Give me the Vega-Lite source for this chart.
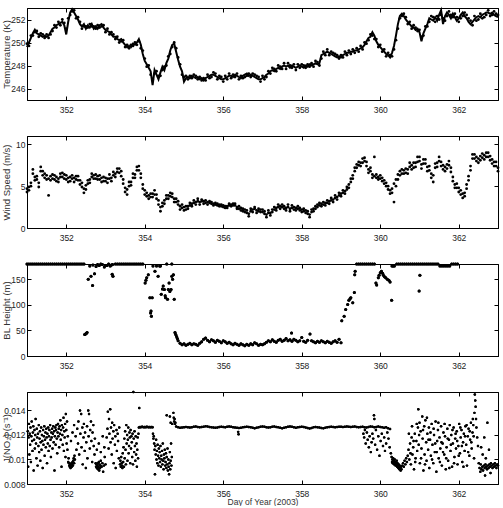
{
"$schema": "https://vega.github.io/schema/vega-lite/v6.json",
"padding": {"left": 1, "top": 4, "right": 5, "bottom": 0},
"bounds": "flush",
"spacing": 36,
"config": {
  "font": "Liberation Sans Narrow, Liberation Sans, sans-serif",
  "view": {"stroke": "black", "strokeWidth": 1},
  "axis": {"grid": false, "domainColor": "black", "tickColor": "black", "tickSize": -4, "labelFont": "Liberation Sans Narrow, Liberation Sans, sans-serif", "labelFontSize": 8.5, "labelColor": "#222", "titleFont": "Liberation Sans, sans-serif", "titleFontSize": 9.5, "titleFontWeight": "normal", "titleColor": "#333", "labelFlush": false},
  "axisX": {"labelPadding": 9.5, "titlePadding": 0},
  "axisY": {"labelPadding": 6, "minExtent": 12, "maxExtent": 12, "titlePadding": 3.5}
},
"datasets": {
"tw": [
{"d":351.00,"t":249.6,"t2":249.9,"w":4.3,"w2":4.7},{"d":351.05,"t":250.0,"t2":249.7,"w":4.9,"w2":4.5},{"d":351.10,"t":250.4,"t2":250.6,"w":5.0,"w2":5.4},{"d":351.15,"t":250.8,"t2":250.6,"w":6.5,"w2":7.0},{"d":351.20,"t":251.1,"t2":250.9,"w":5.7,"w2":6.1},
{"d":351.25,"t":250.8,"t2":251.0,"w":6.2,"w2":5.8},{"d":351.30,"t":250.7,"t2":250.5,"w":4.9,"w2":5.4},{"d":351.35,"t":250.6,"t2":250.8,"w":7.3,"w2":6.8},{"d":351.40,"t":250.5,"t2":250.7,"w":6.8,"w2":6.3},{"d":351.45,"t":250.6,"t2":250.4,"w":6.5,"w2":6.0},
{"d":351.50,"t":250.5,"t2":250.7,"w":5.8,"w2":6.3},{"d":351.55,"t":250.6,"t2":250.4,"w":3.9,"w2":5.9},{"d":351.60,"t":250.9,"t2":250.7,"w":6.2,"w2":5.7},{"d":351.65,"t":251.2,"t2":251.0,"w":5.9,"w2":6.4},{"d":351.70,"t":251.3,"t2":251.5,"w":6.3,"w2":5.8},
{"d":351.75,"t":251.5,"t2":251.3,"w":5.6,"w2":6.1},{"d":351.80,"t":251.6,"t2":251.8,"w":5.9,"w2":5.5},{"d":351.85,"t":251.7,"t2":251.5,"w":6.1,"w2":6.5},{"d":351.90,"t":251.8,"t2":252.0,"w":6.6,"w2":6.1},{"d":351.95,"t":251.5,"t2":251.7,"w":6.4,"w2":5.9},
{"d":352.00,"t":250.7,"t2":251.2,"w":5.8,"w2":6.3},{"d":352.05,"t":251.8,"t2":252.1,"w":5.5,"w2":6.0},{"d":352.10,"t":252.6,"t2":252.4,"w":6.1,"w2":5.6},{"d":352.15,"t":252.9,"t2":252.7,"w":5.9,"w2":6.3},{"d":352.20,"t":252.6,"t2":252.8,"w":6.0,"w2":5.5},
{"d":352.25,"t":252.3,"t2":252.1,"w":5.8,"w2":6.2},{"d":352.30,"t":252.0,"t2":252.2,"w":6.2,"w2":5.7},{"d":352.35,"t":251.6,"t2":251.8,"w":5.7,"w2":5.2},{"d":352.40,"t":251.4,"t2":251.2,"w":5.4,"w2":4.9},{"d":352.45,"t":251.6,"t2":251.4,"w":4.2,"w2":4.7},
{"d":352.50,"t":251.2,"t2":251.4,"w":4.6,"w2":5.1},{"d":352.55,"t":251.5,"t2":251.3,"w":5.3,"w2":5.7},{"d":352.60,"t":251.3,"t2":251.6,"w":5.8,"w2":5.4},{"d":352.65,"t":251.6,"t2":251.4,"w":6.1,"w2":6.5},{"d":352.70,"t":251.2,"t2":251.4,"w":6.3,"w2":5.9},
{"d":352.75,"t":251.4,"t2":251.2,"w":5.9,"w2":6.4},{"d":352.80,"t":251.2,"t2":251.5,"w":6.2,"w2":5.8},{"d":352.85,"t":251.5,"t2":251.3,"w":5.8,"w2":6.3},{"d":352.90,"t":251.6,"t2":251.4,"w":6.0,"w2":5.5},{"d":352.95,"t":251.3,"t2":251.5,"w":5.6,"w2":6.1},
{"d":353.00,"t":251.1,"t2":250.9,"w":6.0,"w2":5.6},{"d":353.05,"t":251.0,"t2":251.2,"w":5.4,"w2":5.9},{"d":353.10,"t":250.9,"t2":250.7,"w":5.9,"w2":6.4},{"d":353.15,"t":250.7,"t2":250.9,"w":6.0,"w2":5.6},{"d":353.20,"t":250.5,"t2":250.7,"w":6.3,"w2":6.7},
{"d":353.25,"t":250.5,"t2":250.3,"w":6.5,"w2":6.1},{"d":353.30,"t":250.3,"t2":250.5,"w":6.7,"w2":7.1},{"d":353.35,"t":250.2,"t2":250.0,"w":7.1,"w2":6.6},{"d":353.40,"t":250.3,"t2":250.1,"w":6.8,"w2":6.2},{"d":353.45,"t":250.0,"t2":250.2,"w":5.8,"w2":5.3},
{"d":353.50,"t":249.8,"t2":249.6,"w":4.8,"w2":4.3},{"d":353.55,"t":249.6,"t2":249.8,"w":4.0,"w2":4.6},{"d":353.60,"t":249.7,"t2":249.5,"w":5.0,"w2":5.5},{"d":353.65,"t":249.6,"t2":249.8,"w":5.5,"w2":5.1},{"d":353.70,"t":249.9,"t2":249.7,"w":6.0,"w2":6.5},
{"d":353.75,"t":249.8,"t2":250.0,"w":6.4,"w2":6.0},{"d":353.80,"t":250.0,"t2":249.8,"w":6.9,"w2":7.3},{"d":353.85,"t":250.3,"t2":250.1,"w":7.4,"w2":6.9},{"d":353.90,"t":249.8,"t2":249.5,"w":6.5,"w2":6.0},{"d":353.95,"t":249.0,"t2":249.3,"w":5.2,"w2":4.7},
{"d":354.00,"t":248.4,"t2":248.6,"w":4.0,"w2":4.5},{"d":354.05,"t":248.1,"t2":247.9,"w":3.8,"w2":4.2},{"d":354.10,"t":247.8,"t2":248.0,"w":3.9,"w2":3.5},{"d":354.15,"t":247.5,"t2":247.2,"w":3.7,"w2":4.1},{"d":354.20,"t":246.3,"t2":246.8,"w":4.1,"w2":3.7},
{"d":354.25,"t":247.6,"t2":247.3,"w":4.5,"w2":4.0},{"d":354.30,"t":247.2,"t2":247.5,"w":4.0,"w2":3.5},{"d":354.35,"t":246.8,"t2":247.1,"w":3.3,"w2":2.8},{"d":354.40,"t":247.4,"t2":247.1,"w":2.0,"w2":2.5},{"d":354.45,"t":247.9,"t2":247.6,"w":2.6,"w2":3.0},
{"d":354.50,"t":247.6,"t2":247.9,"w":3.3,"w2":2.9},{"d":354.55,"t":248.2,"t2":248.0,"w":3.5,"w2":3.9},{"d":354.60,"t":248.6,"t2":248.8,"w":3.9,"w2":3.5},{"d":354.65,"t":249.3,"t2":249.0,"w":4.2,"w2":3.8},{"d":354.70,"t":249.8,"t2":249.6,"w":3.7,"w2":4.1},
{"d":354.75,"t":249.9,"t2":250.0,"w":3.5,"w2":3.1},{"d":354.80,"t":249.2,"t2":249.5,"w":3.1,"w2":3.5},{"d":354.85,"t":248.5,"t2":248.7,"w":2.8,"w2":3.2},{"d":354.90,"t":247.9,"t2":248.1,"w":2.6,"w2":2.2},{"d":354.95,"t":247.5,"t2":247.2,"w":2.4,"w2":2.8},
{"d":355.00,"t":246.6,"t2":247.0,"w":2.1,"w2":2.5},{"d":355.05,"t":246.9,"t2":247.1,"w":2.2,"w2":2.6},{"d":355.10,"t":247.0,"t2":246.8,"w":2.6,"w2":2.3},{"d":355.15,"t":246.9,"t2":247.1,"w":2.7,"w2":3.0},{"d":355.20,"t":247.1,"t2":246.9,"w":2.9,"w2":2.6},
{"d":355.25,"t":247.0,"t2":247.2,"w":3.0,"w2":3.3},{"d":355.30,"t":246.9,"t2":247.1,"w":3.1,"w2":2.8},{"d":355.35,"t":247.0,"t2":246.8,"w":3.2,"w2":3.5},{"d":355.40,"t":246.8,"t2":247.0,"w":3.1,"w2":2.8},{"d":355.45,"t":246.9,"t2":246.7,"w":3.2,"w2":3.4},
{"d":355.50,"t":246.7,"t2":246.9,"w":3.2,"w2":2.9},{"d":355.55,"t":246.9,"t2":246.7,"w":3.0,"w2":3.3},{"d":355.60,"t":247.0,"t2":247.2,"w":3.1,"w2":2.8},{"d":355.65,"t":247.1,"t2":246.9,"w":3.0,"w2":3.2},{"d":355.70,"t":247.2,"t2":247.0,"w":2.9,"w2":3.1},
{"d":355.75,"t":247.2,"t2":247.4,"w":2.9,"w2":2.7},{"d":355.80,"t":247.1,"t2":247.3,"w":2.8,"w2":3.0},{"d":355.85,"t":247.0,"t2":246.8,"w":2.7,"w2":2.9},{"d":355.90,"t":246.9,"t2":247.1,"w":2.8,"w2":2.6},{"d":355.95,"t":246.8,"t2":247.0,"w":2.6,"w2":2.8},
{"d":356.00,"t":246.8,"t2":246.6,"w":2.5,"w2":2.7},{"d":356.05,"t":246.9,"t2":247.1,"w":2.4,"w2":2.6},{"d":356.10,"t":247.0,"t2":246.8,"w":2.6,"w2":2.4},{"d":356.15,"t":247.1,"t2":247.3,"w":2.7,"w2":2.9},{"d":356.20,"t":247.1,"t2":246.9,"w":2.8,"w2":2.6},
{"d":356.25,"t":247.0,"t2":247.2,"w":2.9,"w2":2.7},{"d":356.30,"t":247.2,"t2":247.0,"w":2.7,"w2":2.9},{"d":356.35,"t":247.1,"t2":247.3,"w":2.5,"w2":2.3},{"d":356.40,"t":247.0,"t2":246.8,"w":2.3,"w2":2.6},{"d":356.45,"t":246.9,"t2":247.1,"w":2.1,"w2":2.4},
{"d":356.50,"t":247.1,"t2":246.9,"w":2.0,"w2":2.3},{"d":356.55,"t":247.2,"t2":247.0,"w":1.9,"w2":2.2},{"d":356.60,"t":247.3,"t2":247.1,"w":1.8,"w2":2.1},{"d":356.65,"t":247.1,"t2":247.3,"w":1.7,"w2":1.4},{"d":356.70,"t":247.2,"t2":247.0,"w":2.0,"w2":2.3},
{"d":356.75,"t":247.1,"t2":247.3,"w":2.2,"w2":1.9},{"d":356.80,"t":247.0,"t2":247.2,"w":2.3,"w2":2.5},{"d":356.85,"t":246.9,"t2":247.1,"w":2.1,"w2":1.8},{"d":356.90,"t":246.8,"t2":247.0,"w":2.0,"w2":2.3},{"d":356.95,"t":246.8,"t2":246.6,"w":2.2,"w2":1.9},
{"d":357.00,"t":246.9,"t2":247.1,"w":1.9,"w2":2.2},{"d":357.05,"t":247.0,"t2":246.8,"w":1.7,"w2":2.0},{"d":357.10,"t":247.2,"t2":247.0,"w":1.6,"w2":1.3},{"d":357.15,"t":247.3,"t2":247.5,"w":1.8,"w2":2.1},{"d":357.20,"t":247.5,"t2":247.3,"w":1.5,"w2":1.8},
{"d":357.25,"t":247.6,"t2":247.8,"w":1.9,"w2":2.2},{"d":357.30,"t":247.5,"t2":247.7,"w":2.2,"w2":2.5},{"d":357.35,"t":247.7,"t2":247.5,"w":2.4,"w2":2.1},{"d":357.40,"t":247.8,"t2":248.0,"w":2.5,"w2":2.8},{"d":357.45,"t":247.7,"t2":247.9,"w":2.6,"w2":2.3},
{"d":357.50,"t":247.9,"t2":247.7,"w":2.5,"w2":2.8},{"d":357.55,"t":248.0,"t2":248.2,"w":2.3,"w2":2.6},{"d":357.60,"t":247.9,"t2":247.7,"w":2.4,"w2":2.1},{"d":357.65,"t":248.0,"t2":248.2,"w":2.5,"w2":2.8},{"d":357.70,"t":247.8,"t2":248.0,"w":2.3,"w2":2.0},
{"d":357.75,"t":248.0,"t2":247.8,"w":2.4,"w2":2.7},{"d":357.80,"t":247.9,"t2":248.1,"w":2.2,"w2":2.5},{"d":357.85,"t":247.8,"t2":247.6,"w":2.4,"w2":2.1},{"d":357.90,"t":247.9,"t2":248.1,"w":2.3,"w2":2.6},{"d":357.95,"t":248.0,"t2":247.8,"w":2.1,"w2":2.4},
{"d":358.00,"t":247.9,"t2":248.1,"w":2.2,"w2":1.9},{"d":358.05,"t":247.8,"t2":248.0,"w":2.0,"w2":2.3},{"d":358.10,"t":248.0,"t2":247.8,"w":1.8,"w2":2.1},{"d":358.15,"t":247.9,"t2":248.1,"w":1.7,"w2":2.0},{"d":358.20,"t":248.1,"t2":247.9,"w":1.6,"w2":1.3},
{"d":358.25,"t":248.0,"t2":248.2,"w":1.9,"w2":2.2},{"d":358.30,"t":248.1,"t2":247.9,"w":2.3,"w2":2.0},{"d":358.35,"t":248.2,"t2":248.4,"w":2.6,"w2":2.3},{"d":358.40,"t":248.1,"t2":248.3,"w":2.8,"w2":2.5},{"d":358.45,"t":248.2,"t2":248.0,"w":2.7,"w2":3.0},
{"d":358.50,"t":248.9,"t2":248.6,"w":2.9,"w2":2.6},{"d":358.55,"t":249.0,"t2":249.2,"w":2.8,"w2":3.1},{"d":358.60,"t":249.1,"t2":248.9,"w":3.0,"w2":2.7},{"d":358.65,"t":249.2,"t2":249.4,"w":3.0,"w2":3.3},{"d":358.70,"t":249.1,"t2":248.9,"w":3.2,"w2":2.9},
{"d":358.75,"t":249.0,"t2":249.2,"w":3.3,"w2":3.6},{"d":358.80,"t":248.9,"t2":249.1,"w":3.4,"w2":3.1},{"d":358.85,"t":248.8,"t2":249.0,"w":3.6,"w2":3.9},{"d":358.90,"t":248.7,"t2":248.9,"w":3.7,"w2":3.4},{"d":358.95,"t":248.8,"t2":248.6,"w":3.9,"w2":4.2},
{"d":359.00,"t":248.7,"t2":248.9,"w":4.1,"w2":3.8},{"d":359.05,"t":248.9,"t2":248.7,"w":4.2,"w2":4.5},{"d":359.10,"t":249.0,"t2":249.2,"w":4.4,"w2":4.1},{"d":359.15,"t":249.1,"t2":248.9,"w":4.6,"w2":4.9},{"d":359.20,"t":249.1,"t2":249.3,"w":4.8,"w2":5.2},
{"d":359.25,"t":249.2,"t2":249.0,"w":5.5,"w2":5.9},{"d":359.30,"t":249.2,"t2":249.4,"w":6.3,"w2":5.9},{"d":359.35,"t":249.3,"t2":249.1,"w":6.8,"w2":7.2},{"d":359.40,"t":249.3,"t2":249.5,"w":7.2,"w2":7.6},{"d":359.45,"t":249.4,"t2":249.2,"w":7.5,"w2":7.9},
{"d":359.50,"t":249.5,"t2":249.7,"w":7.8,"w2":7.4},{"d":359.55,"t":249.6,"t2":249.4,"w":8.3,"w2":7.8},{"d":359.60,"t":249.8,"t2":250.0,"w":8.0,"w2":8.4},{"d":359.65,"t":250.1,"t2":249.9,"w":7.4,"w2":7.9},{"d":359.70,"t":250.4,"t2":250.2,"w":7.0,"w2":6.6},
{"d":359.75,"t":250.5,"t2":250.7,"w":6.8,"w2":7.2},{"d":359.80,"t":250.9,"t2":250.6,"w":6.4,"w2":6.0},{"d":359.85,"t":250.6,"t2":250.3,"w":8.5,"w2":6.2},{"d":359.90,"t":250.1,"t2":250.3,"w":6.0,"w2":6.4},{"d":359.95,"t":249.8,"t2":249.6,"w":6.1,"w2":5.8},
{"d":360.00,"t":249.6,"t2":249.8,"w":6.3,"w2":5.9},{"d":360.05,"t":249.4,"t2":249.2,"w":6.0,"w2":5.6},{"d":360.10,"t":249.2,"t2":249.4,"w":5.7,"w2":5.3},{"d":360.15,"t":249.0,"t2":248.8,"w":5.4,"w2":5.0},{"d":360.20,"t":248.9,"t2":249.1,"w":5.0,"w2":4.6},
{"d":360.25,"t":248.7,"t2":248.9,"w":4.5,"w2":4.1},{"d":360.30,"t":249.1,"t2":248.8,"w":4.2,"w2":4.7},{"d":360.35,"t":249.7,"t2":249.4,"w":3.1,"w2":5.3},{"d":360.40,"t":250.6,"t2":250.2,"w":5.0,"w2":5.8},{"d":360.45,"t":251.6,"t2":251.2,"w":5.8,"w2":6.4},
{"d":360.50,"t":252.3,"t2":252.1,"w":6.8,"w2":6.3},{"d":360.55,"t":252.5,"t2":252.3,"w":6.5,"w2":7.0},{"d":360.60,"t":252.3,"t2":252.5,"w":6.9,"w2":6.5},{"d":360.65,"t":252.0,"t2":252.2,"w":6.6,"w2":7.1},{"d":360.70,"t":251.8,"t2":251.6,"w":7.0,"w2":6.5},
{"d":360.75,"t":251.6,"t2":251.8,"w":7.3,"w2":7.8},{"d":360.80,"t":251.4,"t2":251.2,"w":7.5,"w2":7.0},{"d":360.85,"t":251.3,"t2":251.5,"w":7.2,"w2":7.8},{"d":360.90,"t":251.1,"t2":251.3,"w":7.8,"w2":7.3},{"d":360.95,"t":251.2,"t2":251.0,"w":8.5,"w2":7.9},
{"d":361.00,"t":250.9,"t2":251.1,"w":8.0,"w2":8.5},{"d":361.05,"t":250.1,"t2":250.5,"w":7.6,"w2":7.1},{"d":361.10,"t":250.8,"t2":250.6,"w":8.2,"w2":7.7},{"d":361.15,"t":251.2,"t2":251.4,"w":7.7,"w2":8.2},{"d":361.20,"t":251.6,"t2":251.4,"w":7.3,"w2":6.8},
{"d":361.25,"t":252.1,"t2":251.8,"w":6.9,"w2":7.4},{"d":361.30,"t":252.0,"t2":252.3,"w":6.5,"w2":6.0},{"d":361.35,"t":251.9,"t2":252.2,"w":5.5,"w2":6.3},{"d":361.40,"t":252.2,"t2":251.8,"w":7.2,"w2":7.7},{"d":361.45,"t":251.9,"t2":252.3,"w":7.8,"w2":7.3},
{"d":361.50,"t":252.4,"t2":252.0,"w":8.0,"w2":8.5},{"d":361.55,"t":252.8,"t2":252.4,"w":7.4,"w2":7.9},{"d":361.60,"t":251.6,"t2":252.1,"w":7.0,"w2":7.5},{"d":361.65,"t":252.3,"t2":251.9,"w":6.8,"w2":7.3},{"d":361.70,"t":252.6,"t2":252.3,"w":7.6,"w2":7.1},
{"d":361.75,"t":252.4,"t2":252.7,"w":8.0,"w2":7.5},{"d":361.80,"t":252.1,"t2":252.4,"w":7.2,"w2":6.7},{"d":361.85,"t":252.5,"t2":252.2,"w":5.6,"w2":6.1},{"d":361.90,"t":252.2,"t2":252.5,"w":5.2,"w2":4.8},{"d":361.95,"t":251.9,"t2":252.2,"w":4.8,"w2":5.3},
{"d":362.00,"t":252.1,"t2":251.8,"w":4.3,"w2":4.8},{"d":362.05,"t":252.4,"t2":252.1,"w":4.0,"w2":4.5},{"d":362.10,"t":252.6,"t2":252.3,"w":3.6,"w2":4.1},{"d":362.15,"t":252.3,"t2":252.6,"w":4.2,"w2":3.8},{"d":362.20,"t":252.1,"t2":252.4,"w":5.2,"w2":4.7},
{"d":362.25,"t":251.8,"t2":252.1,"w":6.2,"w2":5.7},{"d":362.30,"t":251.6,"t2":251.9,"w":7.4,"w2":6.9},{"d":362.35,"t":251.8,"t2":251.5,"w":8.8,"w2":8.3},{"d":362.40,"t":252.0,"t2":252.3,"w":8.3,"w2":8.8},{"d":362.45,"t":252.2,"t2":251.9,"w":8.0,"w2":8.5},
{"d":362.50,"t":252.3,"t2":252.0,"w":8.3,"w2":7.8},{"d":362.55,"t":252.2,"t2":252.5,"w":8.6,"w2":8.1},{"d":362.60,"t":252.4,"t2":252.1,"w":8.4,"w2":8.9},{"d":362.65,"t":252.5,"t2":252.2,"w":8.7,"w2":8.2},{"d":362.70,"t":252.6,"t2":252.4,"w":9.0,"w2":8.5},
{"d":362.75,"t":252.6,"t2":252.8,"w":8.5,"w2":9.0},{"d":362.80,"t":252.5,"t2":252.3,"w":8.1,"w2":8.6},{"d":362.85,"t":252.6,"t2":252.4,"w":7.7,"w2":8.2},{"d":362.90,"t":252.4,"t2":252.7,"w":7.9,"w2":7.4},{"d":362.95,"t":252.3,"t2":252.5,"w":7.4,"w2":7.9},
{"d":363.00,"t":252.2,"t2":252.4,"w":7.2,"w2":6.8}
],
"bl": [
{"d":351.00,"b":180},{"d":351.05,"b":180},{"d":351.10,"b":180},{"d":351.15,"b":180},{"d":351.20,"b":180},{"d":351.25,"b":180},{"d":351.30,"b":180},{"d":351.35,"b":180},{"d":351.40,"b":180},{"d":351.45,"b":180},
{"d":351.50,"b":180},{"d":351.55,"b":180},{"d":351.60,"b":180},{"d":351.65,"b":180},{"d":351.70,"b":180},{"d":351.75,"b":180},{"d":351.80,"b":180},{"d":351.85,"b":180},{"d":351.90,"b":180},{"d":351.95,"b":180},
{"d":352.00,"b":180},{"d":352.05,"b":180},{"d":352.10,"b":180},{"d":352.15,"b":180},{"d":352.20,"b":180},{"d":352.25,"b":180},{"d":352.30,"b":180},{"d":352.35,"b":180},{"d":352.40,"b":180},{"d":352.45,"b":180},
{"d":352.47,"b":42},{"d":352.49,"b":43},{"d":352.51,"b":44},{"d":352.53,"b":46},
{"d":352.56,"b":150},{"d":352.63,"b":156},{"d":352.67,"b":138},{"d":352.72,"b":161},
{"d":352.60,"b":176},{"d":352.68,"b":178},{"d":352.76,"b":175},{"d":352.80,"b":179},{"d":352.84,"b":177},{"d":352.88,"b":180},{"d":352.92,"b":179},{"d":352.97,"b":174},{"d":353.00,"b":177},{"d":353.04,"b":177},{"d":353.08,"b":180},{"d":353.12,"b":176},{"d":353.15,"b":178},{"d":353.18,"b":179},
{"d":353.17,"b":160},{"d":353.19,"b":156},
{"d":353.25,"b":180},{"d":353.30,"b":180},{"d":353.35,"b":180},{"d":353.40,"b":180},{"d":353.45,"b":180},{"d":353.50,"b":180},{"d":353.55,"b":180},{"d":353.60,"b":180},{"d":353.65,"b":180},{"d":353.70,"b":180},{"d":353.75,"b":180},{"d":353.80,"b":180},{"d":353.85,"b":180},{"d":353.90,"b":180},{"d":353.95,"b":180},
{"d":354.01,"b":143},{"d":354.03,"b":148},{"d":354.05,"b":153},{"d":354.09,"b":159},{"d":354.13,"b":114},{"d":354.19,"b":114},{"d":354.16,"b":88},{"d":354.17,"b":78},{"d":354.15,"b":84},
{"d":354.21,"b":176},{"d":354.26,"b":166},{"d":354.30,"b":176},{"d":354.34,"b":156},{"d":354.38,"b":176},{"d":354.40,"b":176},{"d":354.42,"b":121},{"d":354.47,"b":137},{"d":354.50,"b":130},{"d":354.53,"b":114},
{"d":354.58,"b":111},{"d":354.60,"b":130},{"d":354.62,"b":143},{"d":354.67,"b":130},{"d":354.69,"b":156},{"d":354.73,"b":159},{"d":354.75,"b":111},{"d":354.56,"b":180},{"d":354.69,"b":180},{"d":354.45,"b":131},{"d":354.52,"b":118},{"d":354.64,"b":126},{"d":354.71,"b":150},
{"d":354.77,"b":46},{"d":354.79,"b":42},{"d":354.81,"b":38},{"d":354.83,"b":34},{"d":354.85,"b":30},
{"d":354.90,"b":25},{"d":354.95,"b":22},{"d":355.00,"b":24},{"d":355.05,"b":21},{"d":355.10,"b":23},{"d":355.15,"b":25},{"d":355.20,"b":22},{"d":355.25,"b":24},{"d":355.30,"b":23},{"d":355.35,"b":21},
{"d":355.40,"b":25},{"d":355.45,"b":28},{"d":355.50,"b":33},{"d":355.55,"b":35},{"d":355.60,"b":31},{"d":355.65,"b":28},{"d":355.70,"b":32},{"d":355.75,"b":30},{"d":355.80,"b":27},{"d":355.85,"b":31},
{"d":355.90,"b":29},{"d":355.95,"b":26},{"d":356.00,"b":30},{"d":356.05,"b":28},{"d":356.10,"b":25},{"d":356.15,"b":27},{"d":356.20,"b":24},{"d":356.25,"b":22},{"d":356.30,"b":25},{"d":356.35,"b":23},
{"d":356.40,"b":21},{"d":356.45,"b":24},{"d":356.50,"b":22},{"d":356.55,"b":20},{"d":356.60,"b":23},{"d":356.65,"b":21},{"d":356.70,"b":24},{"d":356.75,"b":22},{"d":356.80,"b":26},{"d":356.85,"b":24},
{"d":356.90,"b":21},{"d":356.95,"b":23},{"d":357.00,"b":22},{"d":357.05,"b":24},{"d":357.10,"b":27},{"d":357.15,"b":30},{"d":357.20,"b":28},{"d":357.25,"b":32},{"d":357.30,"b":29},{"d":357.35,"b":27},
{"d":357.40,"b":31},{"d":357.45,"b":33},{"d":357.50,"b":29},{"d":357.55,"b":31},{"d":357.60,"b":34},{"d":357.65,"b":30},{"d":357.70,"b":32},{"d":357.74,"b":45},{"d":357.75,"b":29},{"d":357.80,"b":33},
{"d":357.85,"b":31},{"d":357.90,"b":28},{"d":357.95,"b":30},{"d":358.00,"b":36},{"d":358.05,"b":29},{"d":358.10,"b":27},{"d":358.15,"b":31},{"d":358.21,"b":43},{"d":358.25,"b":30},{"d":358.30,"b":28},
{"d":358.35,"b":26},{"d":358.40,"b":29},{"d":358.45,"b":27},{"d":358.50,"b":30},{"d":358.55,"b":28},{"d":358.60,"b":26},{"d":358.65,"b":29},{"d":358.70,"b":27},{"d":358.75,"b":25},{"d":358.80,"b":28},
{"d":358.85,"b":30},{"d":358.90,"b":27},{"d":358.95,"b":33},{"d":359.00,"b":26},
{"d":359.02,"b":69},{"d":359.08,"b":78},{"d":359.12,"b":91},{"d":359.17,"b":101},{"d":359.20,"b":109},{"d":359.23,"b":112},{"d":359.25,"b":114},{"d":359.30,"b":104},{"d":359.34,"b":124},{"d":359.35,"b":159},{"d":359.36,"b":166},
{"d":359.40,"b":180},{"d":359.45,"b":180},{"d":359.50,"b":180},{"d":359.55,"b":180},{"d":359.60,"b":180},{"d":359.65,"b":180},{"d":359.70,"b":180},{"d":359.75,"b":180},{"d":359.80,"b":180},{"d":359.85,"b":180},
{"d":359.89,"b":143},{"d":359.91,"b":139},{"d":359.95,"b":153},{"d":359.97,"b":158},{"d":360.00,"b":163},{"d":360.03,"b":166},{"d":360.06,"b":162},{"d":360.08,"b":158},{"d":360.11,"b":155},{"d":360.14,"b":153},{"d":360.18,"b":150},{"d":360.22,"b":148},{"d":360.25,"b":145},
{"d":360.29,"b":109},{"d":360.30,"b":176},{"d":360.33,"b":176},{"d":360.36,"b":176},
{"d":360.42,"b":180},{"d":360.47,"b":180},{"d":360.52,"b":180},{"d":360.57,"b":180},{"d":360.62,"b":180},{"d":360.67,"b":180},{"d":360.72,"b":180},{"d":360.77,"b":180},{"d":360.82,"b":180},{"d":360.87,"b":180},{"d":360.92,"b":180},{"d":360.97,"b":180},
{"d":360.99,"b":127},{"d":361.01,"b":158},
{"d":361.02,"b":180},{"d":361.07,"b":180},{"d":361.12,"b":180},{"d":361.17,"b":180},{"d":361.22,"b":180},{"d":361.27,"b":180},{"d":361.32,"b":180},{"d":361.37,"b":180},{"d":361.42,"b":180},{"d":361.47,"b":180},
{"d":361.52,"b":176},{"d":361.57,"b":176},{"d":361.62,"b":176},{"d":361.67,"b":176},{"d":361.72,"b":176},{"d":361.77,"b":176},
{"d":361.82,"b":180},{"d":361.87,"b":180},{"d":361.92,"b":180},{"d":361.97,"b":180}
],
"jn": [
{"d":351.02,"j":0.0123},{"d":351.03,"j":0.0094},{"d":351.04,"j":0.0118},{"d":351.05,"j":0.0129},{"d":351.06,"j":0.0104},{"d":351.07,"j":0.0121},{"d":351.08,"j":0.0112},{"d":351.09,"j":0.0126},{"d":351.10,"j":0.0098},{"d":351.11,"j":0.0119},
{"d":351.12,"j":0.0131},{"d":351.13,"j":0.0115},{"d":351.14,"j":0.0107},{"d":351.15,"j":0.0122},{"d":351.16,"j":0.0127},{"d":351.17,"j":0.0091},{"d":351.18,"j":0.0116},{"d":351.19,"j":0.0124},{"d":351.20,"j":0.0109},{"d":351.21,"j":0.0120},
{"d":351.22,"j":0.0133},{"d":351.23,"j":0.0113},{"d":351.24,"j":0.0101},{"d":351.25,"j":0.0125},{"d":351.26,"j":0.0118},{"d":351.27,"j":0.0095},{"d":351.28,"j":0.0121},{"d":351.29,"j":0.0111},{"d":351.30,"j":0.0128},{"d":351.31,"j":0.0106},
{"d":351.32,"j":0.0117},{"d":351.33,"j":0.0123},{"d":351.34,"j":0.0099},{"d":351.35,"j":0.0114},{"d":351.36,"j":0.0126},{"d":351.37,"j":0.0108},{"d":351.38,"j":0.0120},{"d":351.39,"j":0.0115},{"d":351.40,"j":0.0093},{"d":351.41,"j":0.0124},
{"d":351.42,"j":0.0112},{"d":351.43,"j":0.0119},{"d":351.44,"j":0.0127},{"d":351.45,"j":0.0103},{"d":351.46,"j":0.0116},{"d":351.47,"j":0.0122},{"d":351.48,"j":0.0110},{"d":351.49,"j":0.0125},{"d":351.50,"j":0.0118},{"d":351.51,"j":0.0097},
{"d":351.52,"j":0.0121},{"d":351.53,"j":0.0113},{"d":351.54,"j":0.0126},{"d":351.55,"j":0.0107},{"d":351.56,"j":0.0119},{"d":351.57,"j":0.0124},{"d":351.58,"j":0.0111},{"d":351.59,"j":0.0128},{"d":351.60,"j":0.0116},{"d":351.61,"j":0.0102},
{"d":351.62,"j":0.0122},{"d":351.63,"j":0.0118},{"d":351.64,"j":0.0125},{"d":351.65,"j":0.0109},{"d":351.66,"j":0.0121},{"d":351.67,"j":0.0127},{"d":351.68,"j":0.0114},{"d":351.69,"j":0.0123},{"d":351.70,"j":0.0091},{"d":351.71,"j":0.0119},
{"d":351.72,"j":0.0126},{"d":351.73,"j":0.0112},{"d":351.74,"j":0.0124},{"d":351.75,"j":0.0128},{"d":351.76,"j":0.0117},{"d":351.77,"j":0.0105},{"d":351.78,"j":0.0122},{"d":351.79,"j":0.0129},{"d":351.80,"j":0.0119},{"d":351.81,"j":0.0125},
{"d":351.82,"j":0.0110},{"d":351.83,"j":0.0127},{"d":351.84,"j":0.0121},{"d":351.85,"j":0.0132},{"d":351.86,"j":0.0116},{"d":351.87,"j":0.0124},{"d":351.88,"j":0.0094},{"d":351.89,"j":0.0128},{"d":351.90,"j":0.0120},{"d":351.91,"j":0.0112},
{"d":351.92,"j":0.0126},{"d":351.93,"j":0.0134},{"d":351.94,"j":0.0107},{"d":351.95,"j":0.0123},{"d":351.96,"j":0.0118},{"d":351.97,"j":0.0129},{"d":351.98,"j":0.0102},{"d":351.99,"j":0.0137},{"d":352.00,"j":0.0124},{"d":352.01,"j":0.0113},
{"d":352.02,"j":0.0131},{"d":352.03,"j":0.0108},{"d":352.04,"j":0.0119},{"d":352.05,"j":0.0098},
{"d":352.06,"j":0.0101},{"d":352.07,"j":0.0097},{"d":352.08,"j":0.0095},{"d":352.09,"j":0.0094},{"d":352.10,"j":0.0096},{"d":352.11,"j":0.0093},{"d":352.12,"j":0.0095},{"d":352.13,"j":0.0097},{"d":352.14,"j":0.0094},{"d":352.15,"j":0.0096},
{"d":352.16,"j":0.0098},{"d":352.17,"j":0.0095},{"d":352.18,"j":0.0099},{"d":352.19,"j":0.0101},{"d":352.20,"j":0.0097},{"d":352.21,"j":0.0103},{"d":352.22,"j":0.0100},
{"d":352.12,"j":0.0115},{"d":352.16,"j":0.0122},{"d":352.20,"j":0.0128},
{"d":352.24,"j":0.0119},{"d":352.26,"j":0.0108},{"d":352.28,"j":0.0125},{"d":352.30,"j":0.0113},{"d":352.31,"j":0.0131},{"d":352.33,"j":0.0104},{"d":352.35,"j":0.0140},{"d":352.36,"j":0.0121},{"d":352.38,"j":0.0137},{"d":352.39,"j":0.0110},
{"d":352.41,"j":0.0126},{"d":352.42,"j":0.0096},{"d":352.44,"j":0.0118},{"d":352.45,"j":0.0129},{"d":352.47,"j":0.0107},{"d":352.48,"j":0.0122},{"d":352.50,"j":0.0093},{"d":352.51,"j":0.0114},{"d":352.53,"j":0.0127},{"d":352.54,"j":0.0101},
{"d":352.56,"j":0.0140},{"d":352.57,"j":0.0119},{"d":352.58,"j":0.0137},{"d":352.60,"j":0.0109},{"d":352.61,"j":0.0124},{"d":352.63,"j":0.0131},{"d":352.64,"j":0.0115},{"d":352.66,"j":0.0098},{"d":352.67,"j":0.0122},{"d":352.69,"j":0.0128},
{"d":352.70,"j":0.0111},{"d":352.72,"j":0.0104},{"d":352.73,"j":0.0117},
{"d":352.75,"j":0.0097},{"d":352.76,"j":0.0094},{"d":352.77,"j":0.0096},{"d":352.78,"j":0.0093},{"d":352.79,"j":0.0095},{"d":352.80,"j":0.0097},{"d":352.81,"j":0.0092},{"d":352.82,"j":0.0094},{"d":352.83,"j":0.0098},{"d":352.84,"j":0.0091},
{"d":352.85,"j":0.0096},{"d":352.86,"j":0.0093},{"d":352.87,"j":0.0095},{"d":352.88,"j":0.0099},{"d":352.90,"j":0.0094},{"d":352.92,"j":0.0097},{"d":352.94,"j":0.0090},{"d":352.96,"j":0.0095},{"d":352.98,"j":0.0102},{"d":353.00,"j":0.0096},
{"d":352.78,"j":0.0108},{"d":352.83,"j":0.0113},{"d":352.88,"j":0.0106},{"d":352.93,"j":0.0119},{"d":352.97,"j":0.0110},
{"d":353.03,"j":0.0118},{"d":353.05,"j":0.0125},{"d":353.06,"j":0.0139},{"d":353.08,"j":0.0109},{"d":353.09,"j":0.0133},{"d":353.10,"j":0.0121},{"d":353.12,"j":0.0141},{"d":353.13,"j":0.0114},{"d":353.14,"j":0.0126},{"d":353.16,"j":0.0104},
{"d":353.17,"j":0.0130},{"d":353.18,"j":0.0117},{"d":353.20,"j":0.0123},{"d":353.21,"j":0.0097},{"d":353.22,"j":0.0128},{"d":353.24,"j":0.0112},{"d":353.25,"j":0.0119},{"d":353.26,"j":0.0093},{"d":353.28,"j":0.0124},{"d":353.29,"j":0.0107},
{"d":353.31,"j":0.0121},{"d":353.32,"j":0.0115},{"d":353.34,"j":0.0101},{"d":353.35,"j":0.0126},
{"d":353.37,"j":0.0096},{"d":353.38,"j":0.0099},{"d":353.39,"j":0.0094},{"d":353.40,"j":0.0102},{"d":353.41,"j":0.0097},{"d":353.42,"j":0.0095},{"d":353.43,"j":0.0093},{"d":353.44,"j":0.0105},{"d":353.45,"j":0.0098},{"d":353.46,"j":0.0110},
{"d":353.47,"j":0.0094},{"d":353.48,"j":0.0117},{"d":353.49,"j":0.0101},{"d":353.50,"j":0.0123},{"d":353.51,"j":0.0108},{"d":353.52,"j":0.0096},{"d":353.53,"j":0.0128},{"d":353.54,"j":0.0113},{"d":353.55,"j":0.0120},{"d":353.56,"j":0.0099},
{"d":353.57,"j":0.0116},{"d":353.58,"j":0.0126},{"d":353.59,"j":0.0105},{"d":353.60,"j":0.0111},{"d":353.61,"j":0.0122},{"d":353.62,"j":0.0118},{"d":353.63,"j":0.0097},{"d":353.64,"j":0.0124},{"d":353.65,"j":0.0109},{"d":353.66,"j":0.0119},
{"d":353.67,"j":0.0114},{"d":353.68,"j":0.0102},{"d":353.69,"j":0.0121},{"d":353.70,"j":0.0096},{"d":353.71,"j":0.0155},{"d":353.72,"j":0.0117},{"d":353.73,"j":0.0106},{"d":353.74,"j":0.0123},{"d":353.75,"j":0.0111},{"d":353.76,"j":0.0099},
{"d":353.77,"j":0.0119},{"d":353.78,"j":0.0104},{"d":353.79,"j":0.0113},{"d":353.80,"j":0.0094},{"d":353.81,"j":0.0108},{"d":353.82,"j":0.0118},{"d":353.83,"j":0.0101},{"d":353.84,"j":0.0121},{"d":353.85,"j":0.0126},{"d":353.86,"j":0.0142},
{"d":353.88,"j":0.01265},{"d":353.90,"j":0.01262},{"d":353.93,"j":0.01266},{"d":353.95,"j":0.01264},{"d":353.98,"j":0.01262},{"d":354.00,"j":0.01265},{"d":354.03,"j":0.01263},{"d":354.05,"j":0.01266},{"d":354.08,"j":0.01264},{"d":354.10,"j":0.01262},
{"d":354.13,"j":0.01265},{"d":354.15,"j":0.01263},{"d":354.18,"j":0.01264},{"d":354.20,"j":0.01262},{"d":354.21,"j":0.0121},{"d":354.22,"j":0.0117},
{"d":354.23,"j":0.0119},{"d":354.24,"j":0.0113},{"d":354.25,"j":0.0108},{"d":354.26,"j":0.0088},{"d":354.27,"j":0.0111},{"d":354.28,"j":0.0104},{"d":354.29,"j":0.0116},{"d":354.30,"j":0.0100},{"d":354.31,"j":0.0107},{"d":354.32,"j":0.0097},
{"d":354.33,"j":0.0112},{"d":354.34,"j":0.0103},{"d":354.35,"j":0.0095},{"d":354.36,"j":0.0109},{"d":354.37,"j":0.0101},{"d":354.38,"j":0.0106},{"d":354.39,"j":0.0098},{"d":354.40,"j":0.0111},{"d":354.41,"j":0.0094},{"d":354.42,"j":0.0103},
{"d":354.43,"j":0.0100},{"d":354.44,"j":0.0107},{"d":354.45,"j":0.0096},{"d":354.46,"j":0.0113},{"d":354.47,"j":0.0099},{"d":354.48,"j":0.0092},{"d":354.49,"j":0.0104},{"d":354.50,"j":0.0101},{"d":354.51,"j":0.0108},{"d":354.52,"j":0.0095},
{"d":354.53,"j":0.0098},{"d":354.54,"j":0.0105},{"d":354.55,"j":0.0093},{"d":354.56,"j":0.0102},{"d":354.57,"j":0.0096},{"d":354.58,"j":0.0109},{"d":354.59,"j":0.0091},{"d":354.60,"j":0.0100},{"d":354.61,"j":0.0094},{"d":354.62,"j":0.0088},
{"d":354.63,"j":0.0097},{"d":354.64,"j":0.0106},{"d":354.65,"j":0.0092},{"d":354.66,"j":0.0099},{"d":354.67,"j":0.0113},{"d":354.68,"j":0.0095},{"d":354.69,"j":0.0102},
{"d":354.56,"j":0.0136},{"d":354.64,"j":0.0135},{"d":354.66,"j":0.0130},{"d":354.70,"j":0.0129},
{"d":354.73,"j":0.0138},{"d":354.74,"j":0.0134},{"d":354.75,"j":0.0131},{"d":354.76,"j":0.0133},{"d":354.77,"j":0.0129},{"d":354.78,"j":0.0130},
{"d":354.80,"j":0.01268},{"d":354.85,"j":0.01262},{"d":354.90,"j":0.01258},{"d":354.95,"j":0.0126},{"d":355.00,"j":0.01263},{"d":355.05,"j":0.01265},{"d":355.10,"j":0.01262},{"d":355.15,"j":0.0126},{"d":355.20,"j":0.01263},{"d":355.25,"j":0.01266},
{"d":355.30,"j":0.01268},{"d":355.35,"j":0.01265},{"d":355.40,"j":0.01262},{"d":355.45,"j":0.01264},{"d":355.50,"j":0.01267},{"d":355.55,"j":0.0127},{"d":355.60,"j":0.01268},{"d":355.65,"j":0.01265},{"d":355.70,"j":0.01262},{"d":355.75,"j":0.0126},
{"d":355.80,"j":0.01258},{"d":355.85,"j":0.01261},{"d":355.90,"j":0.01264},{"d":355.95,"j":0.01266},{"d":356.00,"j":0.01265},{"d":356.05,"j":0.01263},{"d":356.10,"j":0.01266},{"d":356.15,"j":0.01268},{"d":356.20,"j":0.01266},{"d":356.25,"j":0.01263},
{"d":356.30,"j":0.0126},{"d":356.35,"j":0.01258},{"d":356.38,"j":0.01225},{"d":356.39,"j":0.01205},{"d":356.40,"j":0.01256},{"d":356.45,"j":0.01258},{"d":356.50,"j":0.01262},{"d":356.55,"j":0.01265},{"d":356.60,"j":0.01267},{"d":356.65,"j":0.01265},
{"d":356.70,"j":0.01262},{"d":356.75,"j":0.01258},{"d":356.80,"j":0.01254},{"d":356.85,"j":0.01258},{"d":356.90,"j":0.01263},{"d":356.95,"j":0.01266},{"d":357.00,"j":0.01268},{"d":357.05,"j":0.01266},{"d":357.10,"j":0.01263},{"d":357.15,"j":0.0126},
{"d":357.20,"j":0.01263},{"d":357.25,"j":0.01266},{"d":357.30,"j":0.01268},{"d":357.35,"j":0.01265},{"d":357.40,"j":0.01262},{"d":357.45,"j":0.01258},{"d":357.50,"j":0.01255},{"d":357.55,"j":0.01258},{"d":357.60,"j":0.01262},{"d":357.65,"j":0.01266},
{"d":357.70,"j":0.01268},{"d":357.75,"j":0.01266},{"d":357.80,"j":0.01262},{"d":357.85,"j":0.01259},{"d":357.90,"j":0.01262},{"d":357.95,"j":0.01265},{"d":358.00,"j":0.01267},{"d":358.05,"j":0.01264},{"d":358.10,"j":0.0126},{"d":358.15,"j":0.01256},
{"d":358.20,"j":0.01253},{"d":358.25,"j":0.01257},{"d":358.30,"j":0.01262},{"d":358.35,"j":0.01265},{"d":358.40,"j":0.01263},{"d":358.45,"j":0.0126},{"d":358.50,"j":0.01257},{"d":358.55,"j":0.01255},{"d":358.60,"j":0.01258},{"d":358.65,"j":0.01262},
{"d":358.70,"j":0.01265},{"d":358.75,"j":0.01266},{"d":358.80,"j":0.01264},{"d":358.85,"j":0.01262},{"d":358.90,"j":0.01264},{"d":358.95,"j":0.01266},{"d":359.00,"j":0.01267},{"d":359.05,"j":0.01265},{"d":359.10,"j":0.01266},{"d":359.15,"j":0.01268},
{"d":359.20,"j":0.01266},{"d":359.25,"j":0.01264},{"d":359.30,"j":0.01266},{"d":359.35,"j":0.01268},{"d":359.40,"j":0.01265},{"d":359.45,"j":0.01262},{"d":359.50,"j":0.01264},{"d":359.55,"j":0.01266},
{"d":359.60,"j":0.01263},{"d":359.65,"j":0.0126},{"d":359.70,"j":0.01265},{"d":359.75,"j":0.01268},{"d":359.80,"j":0.01266},{"d":359.85,"j":0.01262},{"d":359.90,"j":0.01265},{"d":359.95,"j":0.01268},{"d":360.00,"j":0.01264},{"d":360.05,"j":0.01262},
{"d":360.10,"j":0.01258},{"d":360.15,"j":0.01262},{"d":360.20,"j":0.01255},{"d":360.25,"j":0.01248},
{"d":359.57,"j":0.0121},{"d":359.59,"j":0.0118},{"d":359.61,"j":0.0124},{"d":359.63,"j":0.0113},{"d":359.66,"j":0.0122},{"d":359.68,"j":0.0116},{"d":359.71,"j":0.0110},{"d":359.73,"j":0.0119},{"d":359.76,"j":0.0106},{"d":359.78,"j":0.0114},
{"d":359.80,"j":0.0121},{"d":359.82,"j":0.0117},{"d":359.84,"j":0.0136},{"d":359.85,"j":0.0133},{"d":359.87,"j":0.0112},{"d":359.89,"j":0.0124},{"d":359.92,"j":0.0108},{"d":359.95,"j":0.0119},{"d":359.98,"j":0.0103},{"d":360.01,"j":0.0115},
{"d":360.04,"j":0.0121},{"d":360.07,"j":0.0111},{"d":360.10,"j":0.0118},{"d":360.12,"j":0.0107},{"d":360.15,"j":0.0113},{"d":360.18,"j":0.0122},{"d":360.21,"j":0.0117},{"d":360.24,"j":0.0110},{"d":360.27,"j":0.0105},
{"d":360.29,"j":0.0102},{"d":360.30,"j":0.0098},{"d":360.31,"j":0.0100},{"d":360.32,"j":0.0097},{"d":360.33,"j":0.0101},{"d":360.34,"j":0.0099},{"d":360.35,"j":0.0096},{"d":360.36,"j":0.0098},{"d":360.37,"j":0.0100},{"d":360.38,"j":0.0097},
{"d":360.39,"j":0.0095},{"d":360.40,"j":0.0098},{"d":360.41,"j":0.0096},{"d":360.42,"j":0.0099},{"d":360.43,"j":0.0094},{"d":360.44,"j":0.0097},{"d":360.45,"j":0.0095},{"d":360.46,"j":0.0093},{"d":360.47,"j":0.0096},{"d":360.48,"j":0.0094},
{"d":360.49,"j":0.0092},{"d":360.50,"j":0.0095},{"d":360.51,"j":0.0093},{"d":360.52,"j":0.0091},{"d":360.53,"j":0.0094},{"d":360.54,"j":0.0092},{"d":360.56,"j":0.0095},{"d":360.58,"j":0.0097},{"d":360.60,"j":0.0094},{"d":360.62,"j":0.0099},
{"d":360.64,"j":0.0096},{"d":360.66,"j":0.0101},{"d":360.68,"j":0.0098},{"d":360.70,"j":0.0103},
{"d":360.72,"j":0.0108},{"d":360.74,"j":0.0100},{"d":360.76,"j":0.0113},{"d":360.78,"j":0.0096},{"d":360.80,"j":0.0118},{"d":360.82,"j":0.0104},{"d":360.84,"j":0.0110},{"d":360.86,"j":0.0092},{"d":360.88,"j":0.0121},{"d":360.90,"j":0.0101},
{"d":360.92,"j":0.0115},{"d":360.94,"j":0.0107},{"d":360.96,"j":0.0126},{"d":360.97,"j":0.0141},{"d":360.98,"j":0.0112},{"d":361.00,"j":0.0130},{"d":361.01,"j":0.0097},{"d":361.03,"j":0.0123},{"d":361.05,"j":0.0109},{"d":361.07,"j":0.0135},
{"d":361.08,"j":0.0117},{"d":361.10,"j":0.0091},{"d":361.12,"j":0.0127},{"d":361.13,"j":0.0104},{"d":361.15,"j":0.0132},{"d":361.17,"j":0.0114},{"d":361.18,"j":0.0099},{"d":361.20,"j":0.0121},{"d":361.22,"j":0.0108},{"d":361.24,"j":0.0126},
{"d":361.25,"j":0.0093},{"d":361.27,"j":0.0116},{"d":361.29,"j":0.0103},{"d":361.31,"j":0.0129},{"d":361.33,"j":0.0112},{"d":361.35,"j":0.0097},{"d":361.37,"j":0.0120},{"d":361.39,"j":0.0106},{"d":361.41,"j":0.0131},{"d":361.43,"j":0.0090},
{"d":361.45,"j":0.0115},{"d":361.47,"j":0.0124},{"d":361.49,"j":0.0101},{"d":361.51,"j":0.0118},{"d":361.53,"j":0.0109},{"d":361.55,"j":0.0127},{"d":361.57,"j":0.0095},{"d":361.59,"j":0.0113},{"d":361.61,"j":0.0122},{"d":361.63,"j":0.0104},
{"d":361.65,"j":0.0119},{"d":361.67,"j":0.0092},{"d":361.69,"j":0.0110},{"d":361.71,"j":0.0125},{"d":361.73,"j":0.0099},{"d":361.75,"j":0.0116},{"d":361.77,"j":0.0128},{"d":361.79,"j":0.0107},{"d":361.81,"j":0.0120},{"d":361.83,"j":0.0094},
{"d":361.85,"j":0.0113},{"d":361.87,"j":0.0126},{"d":361.89,"j":0.0102},{"d":361.91,"j":0.0117},{"d":361.93,"j":0.0109},{"d":361.95,"j":0.0123},{"d":361.97,"j":0.0096},{"d":361.99,"j":0.0111},{"d":362.01,"j":0.0129},{"d":362.03,"j":0.0105},
{"d":362.05,"j":0.0118},{"d":362.07,"j":0.0124},{"d":362.09,"j":0.0098},{"d":362.11,"j":0.0114},{"d":362.13,"j":0.0121},{"d":362.15,"j":0.0107},{"d":362.17,"j":0.0127},{"d":362.19,"j":0.0112},{"d":362.21,"j":0.0095},{"d":362.23,"j":0.0119},
{"d":362.25,"j":0.0125},{"d":362.27,"j":0.0103},{"d":362.29,"j":0.0116},{"d":362.31,"j":0.0130},{"d":362.33,"j":0.0109},{"d":362.35,"j":0.0122},{"d":362.37,"j":0.0128},{"d":362.39,"j":0.0101},{"d":362.40,"j":0.0138},{"d":362.41,"j":0.0153},
{"d":362.42,"j":0.0148},{"d":362.43,"j":0.0143},{"d":362.44,"j":0.0133},{"d":362.45,"j":0.0126},{"d":362.47,"j":0.0118},{"d":362.49,"j":0.0111},{"d":362.51,"j":0.0097},{"d":362.53,"j":0.0093},{"d":362.55,"j":0.0090},
{"d":360.73,"j":0.0121},{"d":360.77,"j":0.0105},{"d":360.81,"j":0.0127},{"d":360.85,"j":0.0115},{"d":360.89,"j":0.0098},{"d":360.93,"j":0.0129},{"d":360.99,"j":0.0120},{"d":361.04,"j":0.0101},{"d":361.09,"j":0.0124},{"d":361.14,"j":0.0096},
{"d":361.19,"j":0.0134},{"d":361.23,"j":0.0116},{"d":361.28,"j":0.0122},{"d":361.32,"j":0.0100},{"d":361.36,"j":0.0125},{"d":361.40,"j":0.0113},{"d":361.44,"j":0.0106},{"d":361.48,"j":0.0130},{"d":361.52,"j":0.0098},{"d":361.56,"j":0.0114},
{"d":361.60,"j":0.0106},{"d":361.64,"j":0.0129},{"d":361.68,"j":0.0101},{"d":361.72,"j":0.0117},{"d":361.76,"j":0.0093},{"d":361.80,"j":0.0112},{"d":361.84,"j":0.0124},{"d":361.88,"j":0.0097},{"d":361.92,"j":0.0121},{"d":361.96,"j":0.0115},
{"d":362.00,"j":0.0103},{"d":362.04,"j":0.0126},{"d":362.08,"j":0.0111},{"d":362.12,"j":0.0094},{"d":362.16,"j":0.0119},{"d":362.20,"j":0.0128},{"d":362.24,"j":0.0106},{"d":362.28,"j":0.0123},{"d":362.32,"j":0.0114},{"d":362.36,"j":0.0133},{"d":362.38,"j":0.0119},
{"d":362.56,"j":0.0096},{"d":362.58,"j":0.0092},{"d":362.60,"j":0.0094},{"d":362.62,"j":0.0091},{"d":362.64,"j":0.0095},{"d":362.66,"j":0.0093},{"d":362.68,"j":0.0096},{"d":362.70,"j":0.0094},{"d":362.72,"j":0.0092},{"d":362.74,"j":0.0095},
{"d":362.76,"j":0.0093},{"d":362.78,"j":0.0096},{"d":362.80,"j":0.0094},{"d":362.82,"j":0.0097},{"d":362.84,"j":0.0095},{"d":362.86,"j":0.0093},{"d":362.88,"j":0.0096},{"d":362.90,"j":0.0094},{"d":362.92,"j":0.0097},{"d":362.94,"j":0.0095},
{"d":362.96,"j":0.0093},{"d":362.98,"j":0.0096},{"d":363.00,"j":0.0095},
{"d":362.57,"j":0.0110},{"d":362.61,"j":0.0104},{"d":362.65,"j":0.0118},{"d":362.69,"j":0.0101},{"d":362.73,"j":0.0130},{"d":362.77,"j":0.0108},{"d":362.81,"j":0.0089},{"d":362.67,"j":0.0087}
]
},
"vconcat": [
{
 "width": 471, "height": 92,
 "data": {"name": "tw"},
 "layer": [
  {"mark": {"type": "line", "color": "black", "strokeWidth": 2},
   "encoding": {
    "x": {"field": "d", "type": "quantitative", "scale": {"domain": [351, 363], "nice": false}, "axis": {"values": [352, 354, 356, 358, 360, 362], "title": null}},
    "y": {"field": "t", "type": "quantitative", "scale": {"domain": [245, 253], "nice": false, "zero": false}, "axis": {"values": [246, 248, 250, 252], "title": "Temperature (K)"}}}},
  {"mark": {"type": "point", "filled": true, "color": "black", "size": 8, "opacity": 1},
   "encoding": {
    "x": {"field": "d", "type": "quantitative", "axis": {"orient": "top", "values": [352, 354, 356, 358, 360, 362], "labels": false, "title": null}},
    "y": {"field": "t2", "type": "quantitative", "axis": {"orient": "right", "values": [246, 248, 250, 252], "labels": false, "title": null}}}}
 ],
 "resolve": {"axis": {"x": "independent", "y": "independent"}}
},
{
 "width": 471, "height": 92,
 "data": {"name": "tw"},
 "layer": [
  {"mark": {"type": "point", "filled": true, "color": "black", "size": 8, "opacity": 1},
   "encoding": {
    "x": {"field": "d", "type": "quantitative", "scale": {"domain": [351, 363], "nice": false}, "axis": {"values": [352, 354, 356, 358, 360, 362], "title": null}},
    "y": {"field": "w", "type": "quantitative", "scale": {"domain": [0, 11], "nice": false}, "axis": {"values": [0, 5, 10], "title": "Wind Speed (m/s)"}}}},
  {"mark": {"type": "point", "filled": true, "color": "black", "size": 8, "opacity": 1},
   "encoding": {
    "x": {"field": "d", "type": "quantitative", "axis": {"orient": "top", "values": [352, 354, 356, 358, 360, 362], "labels": false, "title": null}},
    "y": {"field": "w2", "type": "quantitative", "axis": {"orient": "right", "values": [0, 5, 10], "labels": false, "title": null}}}}
 ],
 "resolve": {"axis": {"x": "independent", "y": "independent"}}
},
{
 "width": 471, "height": 92,
 "data": {"name": "bl"},
 "layer": [
  {"mark": {"type": "point", "filled": true, "color": "black", "size": 9, "opacity": 1},
   "encoding": {
    "x": {"field": "d", "type": "quantitative", "scale": {"domain": [351, 363], "nice": false}, "axis": {"values": [352, 354, 356, 358, 360, 362], "title": null}},
    "y": {"field": "b", "type": "quantitative", "scale": {"domain": [0, 180], "nice": false}, "axis": {"values": [0, 50, 100, 150], "title": "BL Height (m)"}}}},
  {"mark": {"type": "point", "filled": true, "color": "black", "size": 9, "opacity": 1},
   "encoding": {
    "x": {"field": "d", "type": "quantitative", "axis": {"orient": "top", "values": [352, 354, 356, 358, 360, 362], "labels": false, "title": null}},
    "y": {"field": "b", "type": "quantitative", "axis": {"orient": "right", "values": [0, 50, 100, 150], "labels": false, "title": null}}}}
 ],
 "resolve": {"axis": {"x": "independent", "y": "independent"}}
},
{
 "width": 471, "height": 92,
 "data": {"name": "jn"},
 "layer": [
  {"mark": {"type": "point", "filled": true, "color": "black", "size": 6, "opacity": 1},
   "encoding": {
    "x": {"field": "d", "type": "quantitative", "scale": {"domain": [351, 363], "nice": false}, "axis": {"values": [352, 354, 356, 358, 360, 362], "title": "Day of Year (2003)", "titleFont": "Liberation Sans Narrow, Liberation Sans, sans-serif", "titleFontSize": 8.5, "titlePadding": -1}},
    "y": {"field": "j", "type": "quantitative", "scale": {"domain": [0.008, 0.0155], "nice": false, "zero": false}, "axis": {"values": [0.008, 0.01, 0.012, 0.014], "format": "~g", "title": "J(NO₂) (s⁻¹)"}}}},
  {"mark": {"type": "point", "filled": true, "color": "black", "size": 6, "opacity": 1},
   "encoding": {
    "x": {"field": "d", "type": "quantitative", "axis": {"orient": "top", "values": [352, 354, 356, 358, 360, 362], "labels": false, "title": null}},
    "y": {"field": "j", "type": "quantitative", "axis": {"orient": "right", "values": [0.008, 0.01, 0.012, 0.014], "labels": false, "title": null}}}}
 ],
 "resolve": {"axis": {"x": "independent", "y": "independent"}}
}
]
}
